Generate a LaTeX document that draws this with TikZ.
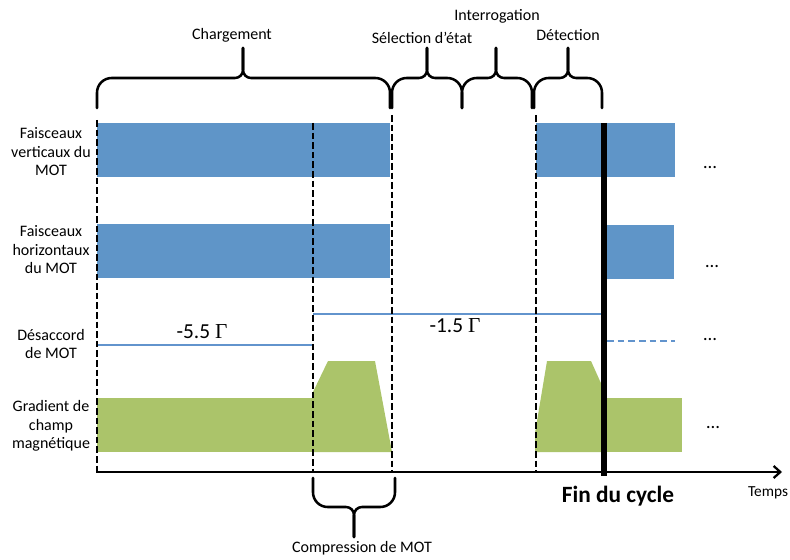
\documentclass[tikz,border=0pt]{standalone}
\usepackage{fontspec}
\setmainfont{Carlito}
\newfontfamily\gfont{Liberation Serif}
\usetikzlibrary{arrows.meta}
\definecolor{bbl}{RGB}{95,149,200}
\definecolor{bln}{RGB}{98,148,205}
\definecolor{grn}{RGB}{171,196,106}
\newcommand\mybrace[6]{% x1 x2 xm yb yf yt
  \draw[bracel] (#1,#4) [rounded corners=11] -- (#1,#5) [rounded corners=6] -- (#3,#5) -- (#3,#6);
  \draw[bracel] (#2,#4) [rounded corners=11] -- (#2,#5) [rounded corners=6] -- (#3,#5) -- (#3,#6);}
\begin{document}
\begin{tikzpicture}[x=0.75pt,y=-0.75pt,
  bracel/.style={line width=1.9pt,line cap=round},
  vdash/.style={line width=2pt,dash pattern=on 5pt off 2.2pt},
  lbl/.style={font=\fontsize{12}{13.9}\selectfont,align=center,inner sep=0pt},
  big/.style={font=\fontsize{16}{18}\selectfont,inner sep=0pt},
  bline/.style={draw=bln,line width=2pt}]
\useasboundingbox (0,0) rectangle (790,560);
% blue beams
\fill[bbl] (97,123) rectangle (390,177);
\fill[bbl] (536,123) rectangle (675,177);
\fill[bbl] (97,224) rectangle (390,278);
\fill[bbl] (604,225) rectangle (674,279);
% detuning
\draw[bline] (97,345) -- (313,345);
\draw[bline] (313,314) -- (604,314);
\draw[draw=bln,line width=2.2pt,dash pattern=on 5pt off 3pt] (607,341) -- (675,341);
% gradient
\fill[grn] (97,398) rectangle (313,452);
\fill[grn] (313,452) -- (313,392) -- (328,361) -- (375,361) -- (392,452) -- cycle;
\fill[grn] (535,452) -- (535,433) -- (547,361) -- (591,361) -- (604,390) -- (604,452) -- cycle;
\fill[grn] (604,398) rectangle (682,452);
% dashed separators
\draw[vdash] (97,120) -- (97,472);
\draw[vdash] (313,123) -- (313,472);
\draw[vdash] (392,115) -- (392,472);
\draw[vdash] (536,115) -- (536,472);
% axis
\coordinate (ax0) at (96,472);
\coordinate (ax1) at (782,472);
\draw[line width=1.7pt,-{Straight Barb[length=5pt,width=9pt,line width=1.7pt]}] (ax0) -- (ax1);
% end of cycle
\draw[line width=4.5pt] (604,123) -- (604,476);
% braces
\mybrace{97}{390}{243}{108}{78}{48}
\mybrace{392}{462}{427}{108}{78}{48}
\mybrace{462}{532}{496}{108}{78}{48}
\mybrace{534}{602}{568}{108}{78}{48}
\mybrace{313}{395}{354}{478}{507}{537}
% phase labels
\node[lbl] (charg) at (232,35) {Chargement};
\node[lbl] (sel) at (422,38) {Sélection d’état};
\node[lbl] (interr) at (497,16) {Interrogation};
\node[lbl] (det) at (568,35) {Détection};
\node[lbl] (compr) at (362,548) {Compression de MOT};
% row labels
\node[lbl] (r1) at (51,152) {Faisceaux\\verticaux du\\MOT};
\node[lbl] (r2) at (51,250) {Faisceaux\\horizontaux\\du MOT};
\node[lbl] (r3) at (51,344) {Désaccord\\de MOT};
\node[lbl] (r4) at (51,426) {Gradient de\\champ\\magnétique};
% values
\node[big] (v1) at (202,332) {-5.5 {\gfont Γ}};
\node[big] (v2) at (455,326) {-1.5 {\gfont Γ}};
% dots
\node[lbl,font=\fontsize{14}{14}\selectfont] (d1) at (710,168) {…};
\node[lbl,font=\fontsize{14}{14}\selectfont] (d2) at (712,267) {…};
\node[lbl,font=\fontsize{14}{14}\selectfont] (d3) at (710,340) {…};
\node[lbl,font=\fontsize{14}{14}\selectfont] (d4) at (713,428) {…};
% end
\node[inner sep=0pt,font=\fontsize{17.5}{20}\selectfont\bfseries] (fin) at (618,496) {Fin du cycle};
\node[lbl,font=\fontsize{11.5}{13}\selectfont] (temps) at (768,493) {Temps};
\end{tikzpicture}
\end{document}
